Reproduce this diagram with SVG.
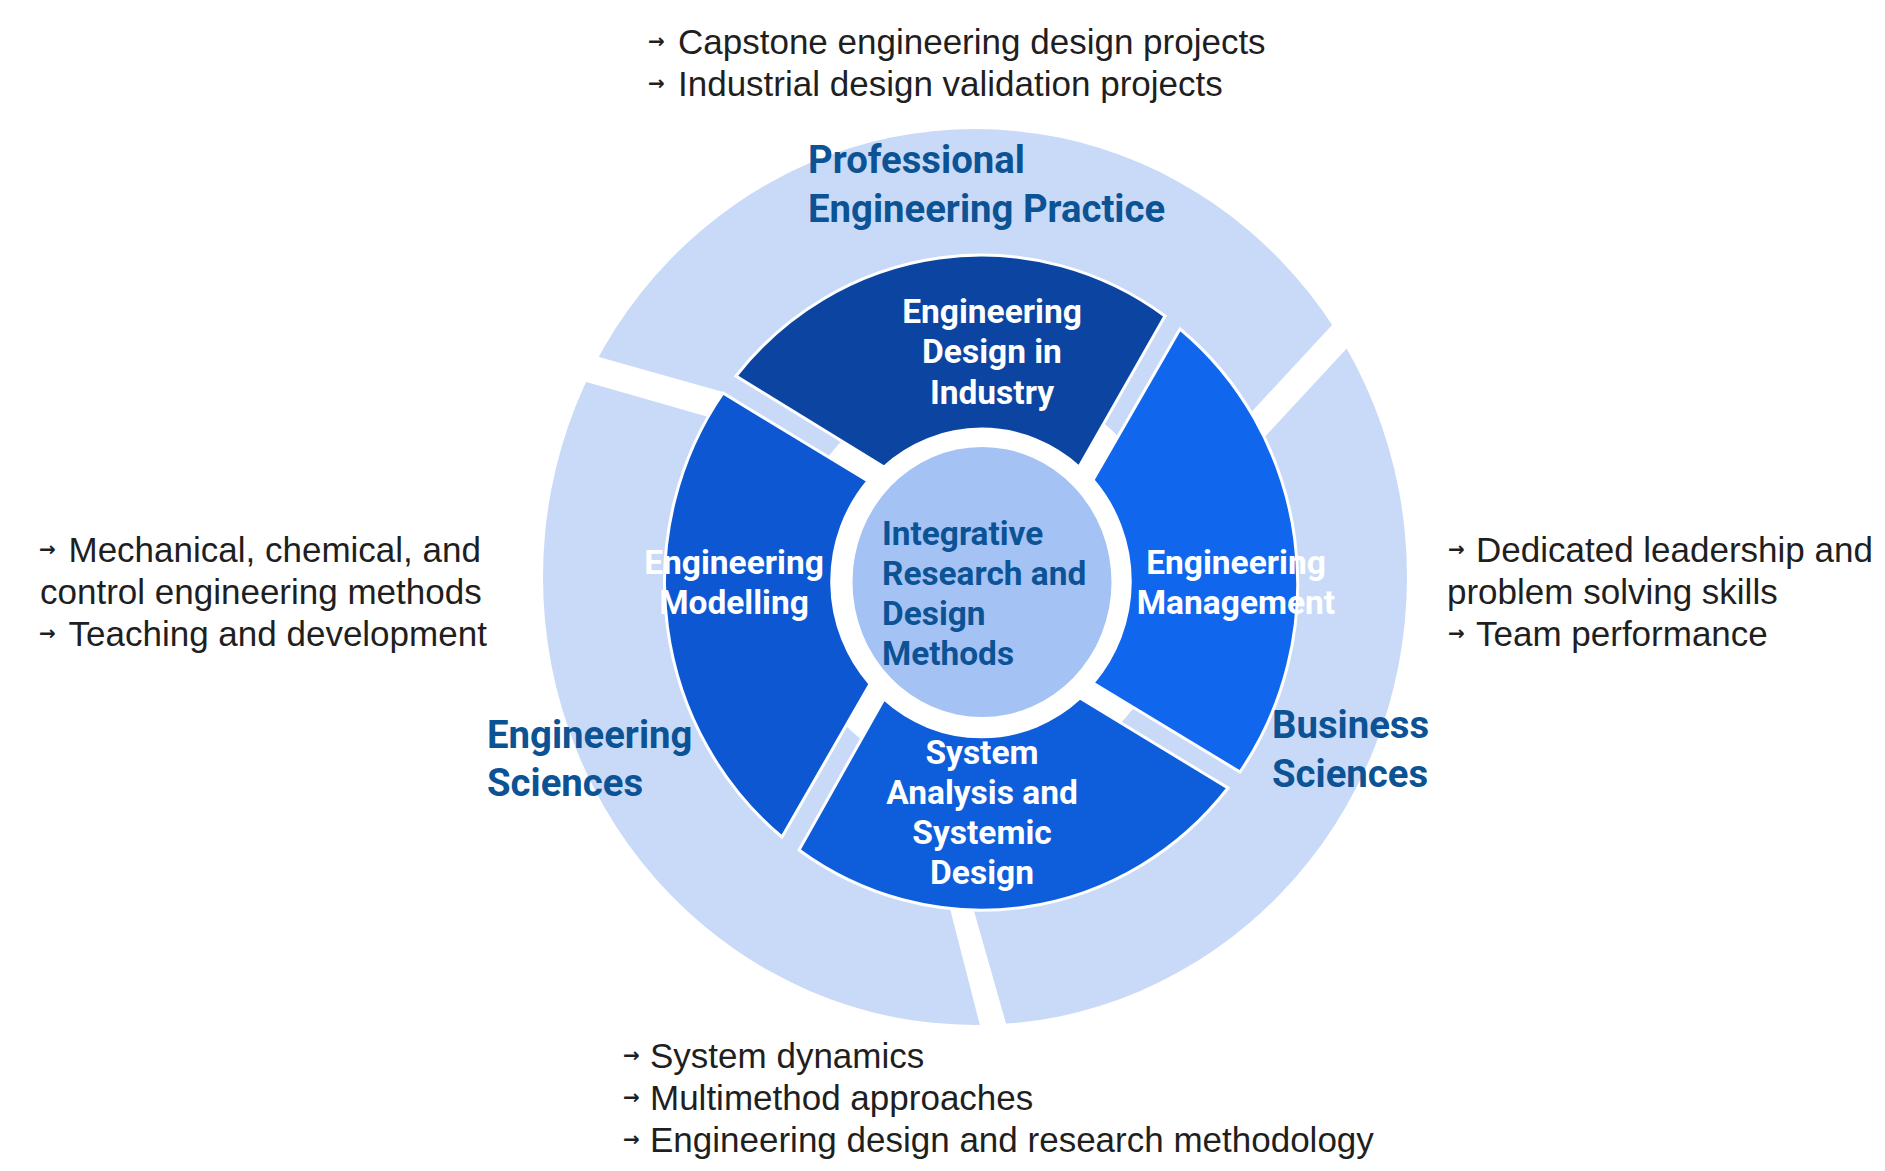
<svg xmlns="http://www.w3.org/2000/svg" width="1885" height="1171" viewBox="0 0 1885 1171">
<style>
.bul{font-family:"Liberation Sans",Arial,sans-serif;font-size:35px;fill:#1f1f1f}
.arr{font-family:"DejaVu Sans",sans-serif;font-size:20px;font-weight:700;fill:#1f1f1f}
.lbl{font-family:Roboto,"Liberation Sans",sans-serif;font-weight:700;font-size:38.3px;fill:#0b5394}
.ctr{font-family:Roboto,"Liberation Sans",sans-serif;font-weight:700;font-size:33.4px;fill:#0b5394}
.inl{font-family:Roboto,"Liberation Sans",sans-serif;font-weight:700;font-size:33.5px;fill:#ffffff;text-anchor:middle}
.seg{stroke:#ffffff;stroke-width:3;stroke-linejoin:miter}
.light{fill:#c9daf8}
.gap{fill:#ffffff}
</style>
<rect width="1885" height="1171" fill="#ffffff"/>

<g id="outer-ring">
  <path class="light" fill-rule="evenodd" d="M 543,577 A 432 448 0 1 1 1407,577 A 432 448 0 1 1 543,577 Z M 787,581 A 195 202 0 1 0 1177,581 A 195 202 0 1 0 787,581 Z"/>
  <polygon class="gap" points="560,346 723,392 712,418 548,371"/>
  <polygon class="gap" points="1359,296 1245,419 1260,442 1374,319"/>
  <polygon class="gap" points="946,893 985,1045 1011,1041 970,897"/>
</g>

<g id="node-professional-practice">
  <text class="lbl" x="808" y="173">Professional</text>
  <text class="lbl" x="808" y="222">Engineering Practice</text>
  <text class="arr" x="648" y="47.5">→</text>
  <text class="bul" x="678" y="53.5">Capstone engineering design projects</text>
  <text class="arr" x="648" y="89.5">→</text>
  <text class="bul" x="678" y="95.5">Industrial design validation projects</text>
</g>

<g id="node-engineering-sciences">
  <text class="lbl" x="487" y="748">Engineering</text>
  <text class="lbl" x="487" y="796">Sciences</text>
  <text class="arr" x="39" y="556">→</text>
  <text class="bul" x="68.5" y="562">Mechanical, chemical, and</text>
  <text class="bul" x="40" y="604">control engineering methods</text>
  <text class="arr" x="39" y="640">→</text>
  <text class="bul" x="68.5" y="646">Teaching and development</text>
</g>

<g id="node-business-sciences">
  <text class="lbl" x="1272" y="738">Business</text>
  <text class="lbl" x="1272" y="787">Sciences</text>
  <text class="arr" x="1448" y="556">→</text>
  <text class="bul" x="1476" y="562">Dedicated leadership and</text>
  <text class="bul" x="1447" y="604">problem solving skills</text>
  <text class="arr" x="1448" y="640">→</text>
  <text class="bul" x="1476" y="646">Team performance</text>
</g>

<g id="node-bottom-methods">
  <text class="arr" x="623" y="1062">→</text>
  <text class="bul" x="650" y="1068">System dynamics</text>
  <text class="arr" x="623" y="1104">→</text>
  <text class="bul" x="650" y="1110">Multimethod approaches</text>
  <text class="arr" x="623" y="1146">→</text>
  <text class="bul" x="650" y="1152">Engineering design and research methodology</text>
</g>

<g id="node-design-in-industry">
  <path class="seg" fill="#0b45a1" d="M 884,467 L 736,376 A 316 327 0 0 1 1165,316 L 1079,467 A 148 153 0 0 0 884,467 Z"/>
</g>
<g id="node-engineering-management">
  <path class="seg" fill="#1067ee" d="M 1093,480 L 1180,329 A 316 327 0 0 1 1240,772 L 1093,683 A 148 153 0 0 0 1093,480 Z"/>
</g>
<g id="node-system-analysis">
  <path class="seg" fill="#0e5edc" d="M 1080,698 L 1228,788 A 316 327 0 0 1 799,850 L 884,699 A 148 153 0 0 0 1080,698 Z"/>
</g>
<g id="node-engineering-modelling">
  <path class="seg" fill="#0d58d2" d="M 870,684 L 782,837 A 316 327 0 0 1 723,393 L 868,481 A 148 153 0 0 0 870,684 Z"/>
</g>

<g id="node-center">
  <ellipse cx="982" cy="581.5" rx="148" ry="153" fill="#ffffff"/>
  <ellipse cx="982" cy="582" rx="129.5" ry="135" fill="#a4c2f4"/>
  <text class="ctr" x="882" y="545">Integrative</text>
  <text class="ctr" x="882" y="585">Research and</text>
  <text class="ctr" x="882" y="625">Design</text>
  <text class="ctr" x="882" y="665">Methods</text>
</g>

<g id="segment-labels">
  <text class="inl" x="992" y="323">Engineering</text>
  <text class="inl" x="992" y="363">Design in</text>
  <text class="inl" x="992" y="404">Industry</text>
  <text class="inl" x="734" y="574">Engineering</text>
  <text class="inl" x="734" y="614">Modelling</text>
  <text class="inl" x="1236" y="574">Engineering</text>
  <text class="inl" x="1236" y="614">Management</text>
  <text class="inl" x="982" y="764">System</text>
  <text class="inl" x="982" y="804">Analysis and</text>
  <text class="inl" x="982" y="844">Systemic</text>
  <text class="inl" x="982" y="884">Design</text>
</g>

<g id="connectors"/>
</svg>
